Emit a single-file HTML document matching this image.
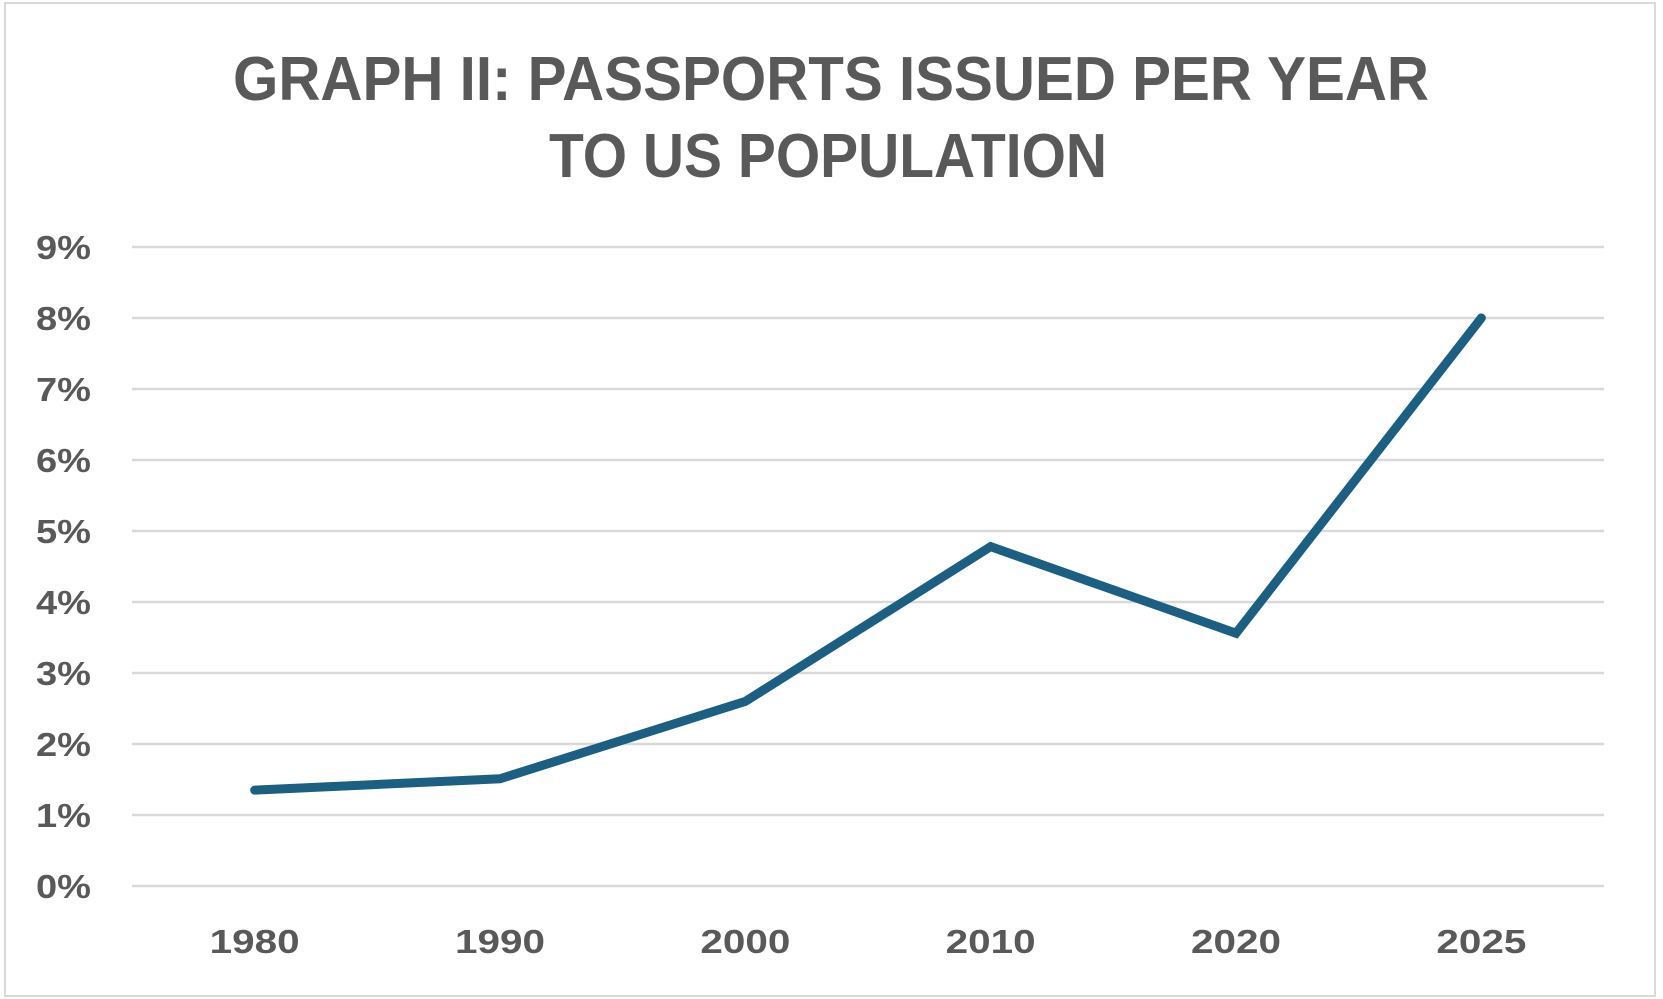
<!DOCTYPE html>
<html><head><meta charset="utf-8"><style>
html,body{margin:0;padding:0;background:#fff;width:1663px;height:999px;overflow:hidden}
svg{display:block;font-family:"Liberation Sans",sans-serif;font-weight:bold}
</style></head><body>
<svg id="chart" width="1663" height="999" viewBox="0 0 1663 999">
<rect x="5" y="3" width="1650" height="993" fill="#fff" stroke="#d9d9d9" stroke-width="2"/>
<text x="233" y="100" font-size="62" fill="#595959" textLength="1196" lengthAdjust="spacingAndGlyphs">GRAPH II: PASSPORTS ISSUED PER YEAR</text>
<text x="549" y="177" font-size="62" fill="#595959" textLength="558" lengthAdjust="spacingAndGlyphs">TO US POPULATION</text>
<g id="grid"></g><g id="ylabels"></g><g id="xlabels"></g><g id="series"></g>
</svg>
<script>
const categories = ["1980","1990","2000","2010","2020","2025"];
const passportRate = [1.35, 1.51, 2.6, 4.78, 3.56, 8.0];
const yTicks = [0,1,2,3,4,5,6,7,8,9];
const yTickLabels = ["0%","1%","2%","3%","4%","5%","6%","7%","8%","9%"];

const NS = "http://www.w3.org/2000/svg";
const plotL = 132, plotR = 1604, plotTop = 247, plotBot = 886, yMax = 9;
const band = (plotR - plotL) / categories.length;
function xScale(i){ return plotL + band * (i + 0.5); }
function yScale(v){ return plotBot - (v / yMax) * (plotBot - plotTop); }
function mk(tag, attrs){ const e = document.createElementNS(NS, tag); for (const k in attrs) e.setAttribute(k, attrs[k]); return e; }

const grid = document.getElementById('grid');
const yl = document.getElementById('ylabels');
yTicks.forEach((t, i) => {
  const ln = mk('line', {x1: plotL, x2: plotR, y1: yScale(t), y2: yScale(t), stroke: '#d9d9d9', 'stroke-width': 2.5});
  
  
  grid.appendChild(ln);
  const tx = mk('text', {x: 91, y: yScale(t) + 12, 'text-anchor': 'end', 'font-size': 33, fill: '#595959', textLength: 55, lengthAdjust: 'spacingAndGlyphs'});
  tx.textContent = yTickLabels[i];
  
  
  yl.appendChild(tx);
});
const xl = document.getElementById('xlabels');
categories.forEach((c, i) => {
  const tx = mk('text', {x: xScale(i) - 45, y: 953, 'font-size': 33, fill: '#595959', textLength: 90, lengthAdjust: 'spacingAndGlyphs'});
  tx.textContent = c;
  
  
  xl.appendChild(tx);
});
const pts = passportRate.map((v, i) => xScale(i) + ',' + yScale(v)).join(' ');
const pl = mk('polyline', {points: pts, fill: 'none', stroke: '#1b5f83', 'stroke-width': 9, 'stroke-linecap': 'round', 'stroke-linejoin': 'miter'});


document.getElementById('series').appendChild(pl);
</script>
</body></html>
